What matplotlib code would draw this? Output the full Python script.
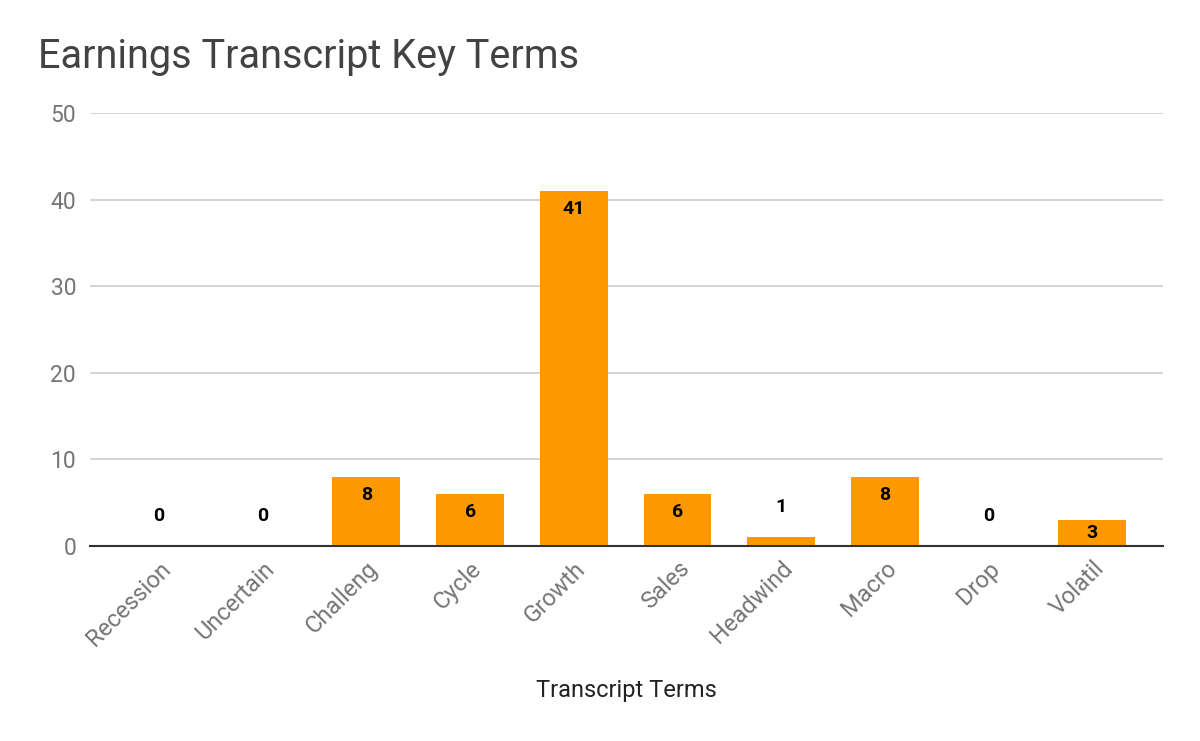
import matplotlib
matplotlib.use("Agg")
import matplotlib.pyplot as plt

categories = ["Recession", "Uncertain", "Challeng", "Cycle", "Growth",
              "Sales", "Headwind", "Macro", "Drop", "Volatil"]
counts = [0, 0, 8, 6, 41, 6, 1, 8, 0, 3]
y_ticks = [0, 10, 20, 30, 40, 50]

title = "Earnings Transcript Key Terms"
x_label = "Transcript Terms"

plt.rcParams['font.family'] = ['Roboto', 'DejaVu Sans']

fig = plt.figure(figsize=(12, 7.41), dpi=100)
ax = fig.add_axes([0.075, 0.2632, 0.894, 0.5843])

bar_color = "#ff9900"
bars = ax.bar(range(len(categories)), counts, width=0.655, color=bar_color,
              zorder=2, linewidth=0)

ax.set_xlim(-0.665, len(categories) - 0.32)
ax.set_ylim(0, 50)
ax.set_yticks(y_ticks)
ax.set_yticklabels([str(t) for t in y_ticks], fontsize=16.5, color="#757575")
ax.grid(axis='y', color="#cccccc", linewidth=1.2, zorder=0)
ax.set_axisbelow(True)

for s in ['top', 'right', 'left']:
    ax.spines[s].set_visible(False)
ax.spines['bottom'].set_color("#333333")
ax.spines['bottom'].set_linewidth(1.5)
ax.spines['bottom'].set_zorder(3)
ax.tick_params(axis='both', length=0)
ax.tick_params(axis='y', pad=10)

ax.set_xticks(range(len(categories)))
ax.set_xticklabels(categories, rotation=45, ha='right', va='top',
                   rotation_mode='anchor', fontsize=17, color="#757575")
ax.tick_params(axis='x', pad=8)

# data labels
px_per_unit = (ax.transData.transform((0, 1))[1] - ax.transData.transform((0, 0))[1])
for i, v in enumerate(counts):
    h_px = v * px_per_unit
    if h_px >= 24:
        off_px = -min(18, h_px / 2)
    else:
        off_px = 30
    ax.annotate(str(v), (i, v), xytext=(0, off_px * 72 / 100),
                textcoords='offset points', ha='center', va='center',
                fontsize=14, fontweight='bold', color="#000000", zorder=4)

fig.text(38 / 1200, 1 - 57 / 741, title, fontsize=28.5, color="#424242",
         ha='left', va='center')
fig.text(626 / 1200, 1 - 691 / 741, x_label, fontsize=17, color="#222222",
         ha='center', va='center')

fig.savefig("out.png", dpi=100)
